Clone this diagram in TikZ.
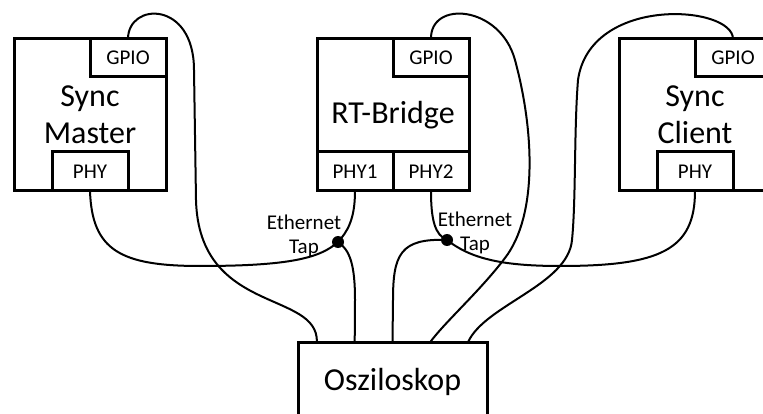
\documentclass[tikz,border=0pt]{standalone}
\usepackage{fontspec}
\setmainfont{Carlito}
\usetikzlibrary{calc}

\begin{document}
\begin{tikzpicture}[
  x=1pt, y=-1pt,
  box/.style  ={draw, line width=3pt, inner sep=0pt, outer sep=0pt, align=center,
                font=\fontsize{32}{37}\selectfont},
  port/.style ={draw, line width=3pt, inner sep=0pt, outer sep=0pt,
                minimum width=76pt, minimum height=38pt, font=\fontsize{21}{24}\selectfont},
  wire/.style ={line width=2pt},
  dot/.style  ={circle, fill, inner sep=0pt, minimum size=12pt},
  taplbl/.style={align=center, inner sep=0pt, font=\fontsize{21}{24}\selectfont}
]
\useasboundingbox (0,0) rectangle (763,414);
\clip (0,0) rectangle (763,414);

% ---- Devices ------------------------------------------------------------------
\node[box, minimum width=152pt, minimum height=152pt] (master) at (90,115) {Sync\\Master};
\node[box, minimum width=152pt, minimum height=152pt] (bridge) at (393,115) {RT-Bridge};
\node[box, minimum width=152pt, minimum height=152pt] (client) at (695,115) {Sync\\Client};
\node[box, minimum width=189pt, minimum height=80pt] (osz) at (392.5,382) {Osziloskop};

% ---- Ports ---------------------------------------------------------------------
\node[port, anchor=north east] (gpioM) at (master.north east) {GPIO};
\node[port, anchor=south, minimum height=39pt] (phyM) at (master.south) {PHY};
\node[port, anchor=north east] (gpioR) at (bridge.north east) {GPIO};
\node[port, anchor=south west, minimum height=39pt] (phy1) at (bridge.south west) {PHY1};
\node[port, anchor=south east, minimum height=39pt] (phy2) at (bridge.south east) {PHY2};
\node[port, anchor=north east] (gpioC) at (client.north east) {GPIO};
\node[port, anchor=south, minimum height=39pt] (phyC) at (client.south) {PHY};

% ---- Probe inputs of the scope and the taps ----------------------------------
\foreach \i/\f in {1/0.1,2/0.3,3/0.5,4/0.7,5/0.9}
  \coordinate (o\i) at ($(osz.north west)!\f!(osz.north east)$);
\coordinate (tap1) at (338,242);
\coordinate (tap2) at (447,240);

% ---- GPIO lines ------------------------------------------------------------------
\draw[wire] (gpioM.north) .. controls (128,2) and (194,0) .. (194,70)
  -- (196,200) .. controls (199,315) and (318,290) .. (o1);
\draw[wire] (gpioR.north) .. controls (430,0) and (500,5) .. (515,60)
  .. controls (534,130) and (538,215) .. (505,258)
  .. controls (480,291) and (445,322) .. (o4);
\draw[wire] (gpioC.north) .. controls (733,5) and (590,-5) .. (578,80)
  .. controls (574,130) and (576,200) .. (572,240)
  .. controls (568,285) and (485,305) .. (o5);

% ---- Ethernet lines --------------------------------------------------------------
\draw[wire] (phyM.south) .. controls (92,250) and (120,266) .. (200,266)
  .. controls (290,266) and (320,258) .. (tap1);
\draw[wire] (phy1.south) .. controls (355,220) and (347,232) .. (tap1);
\draw[wire] (tap1) .. controls (350,250) and (355,265) .. (355,300) -- (o2);
\draw[wire] (phy2.south) .. controls (431,220) and (435,235) .. (tap2);
\draw[wire] (tap2) .. controls (470,258) and (500,266) .. (560,266)
  .. controls (660,266) and (695,250) .. (phyC.south);
\draw[wire] (tap2) .. controls (400,238) and (393,255) .. (393,300) -- (o3);

\node[dot] (dot1) at (tap1) {};
\node[dot] (dot2) at (tap2) {};
\node[taplbl] (lbl1) at ($(tap1)+(-34,-6)$) {Ethernet\\Tap};
\node[taplbl] (lbl2) at ($(tap2)+(28,-7.5)$) {Ethernet\\Tap};

\end{tikzpicture}
\end{document}
